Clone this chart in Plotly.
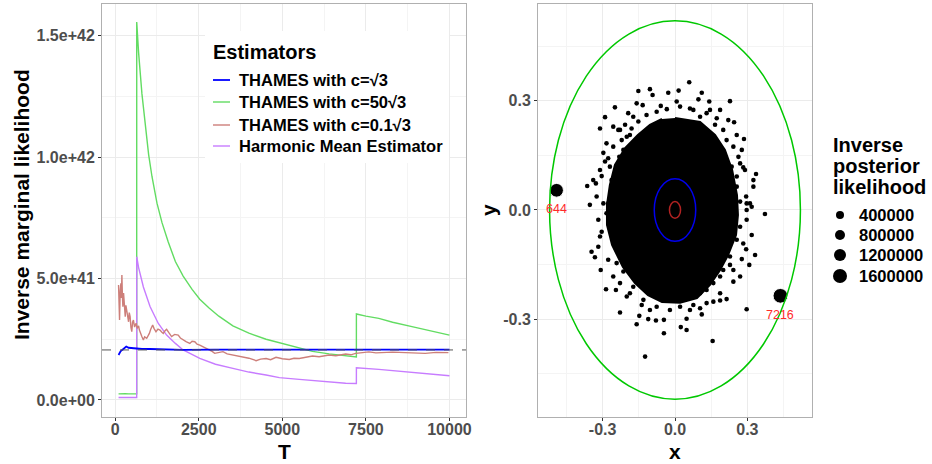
import plotly.graph_objects as go

# ---------------- Left panel data (values in units of 1e41) ----------------
SCALE = 1e41
blue_T = [100, 130, 160, 200, 250, 300, 330, 400, 450, 550, 645, 800, 1042, 1400, 2033, 3000, 5000, 7500, 10000]
blue_v = [1.85, 1.95, 2.0, 2.05, 2.1, 2.17, 2.2, 2.15, 2.14, 2.12, 2.13, 2.1, 2.1, 2.08, 2.06, 2.07, 2.07, 2.07, 2.07]

green_T = [100, 200, 300, 400, 500, 643, 644, 700, 800, 900, 1000, 1100, 1250, 1400, 1587, 1800, 2033, 2300,
           2530, 2800, 3100, 3521, 4000, 4514, 4911, 5506, 5903, 6400, 6895, 7215, 7216, 7500, 7887, 8300,
           8878, 9400, 10000]
green_v = [0.25, 0.27, 0.26, 0.25, 0.26, 0.25, 15.56, 14.3, 12.6, 11.2, 10.1, 9.2, 8.1, 7.3, 6.5, 5.7, 5.1, 4.55,
           4.15, 3.8, 3.45, 3.05, 2.75, 2.5, 2.36, 2.15, 2.0, 1.9, 1.81, 1.77, 3.54, 3.45, 3.36, 3.2,
           3.02, 2.85, 2.67]

red_T = [100, 115, 130, 150, 170, 185, 200, 215, 230, 250, 270, 290, 300, 320, 350, 380, 400, 420, 446, 470,
         496, 520, 545, 580, 625, 660, 700, 724, 760, 800, 843, 880, 943, 980, 1022, 1060, 1121, 1160, 1220,
         1280, 1339, 1390, 1438, 1490, 1538, 1600, 1687, 1780, 1885, 1950, 2033, 2120, 2232, 2300, 2381, 2450,
         2530, 2650, 2827, 2900, 2976, 3100, 3224, 3350, 3521, 3650, 3819, 4000, 4216, 4350, 4514, 4650, 4812,
         5000, 5208, 5350, 5506, 5700, 5903, 6100, 6399, 6600, 6895, 7050, 7193, 7400, 7589, 7800, 8085, 8300,
         8680, 9000, 9276, 9600, 9970]
red_v = [4.73, 3.6, 3.29, 4.5, 4.8, 4.2, 5.14, 4.3, 3.84, 4.4, 4.1, 3.6, 3.43, 3.9, 3.7, 3.35, 3.22, 3.6, 3.43,
         3.0, 2.81, 3.2, 3.29, 3.0, 3.16, 2.95, 3.05, 2.88, 2.7, 2.6, 2.47, 2.6, 2.54, 2.62, 2.74, 2.9, 3.09,
         2.95, 2.81, 2.92, 2.88, 2.8, 2.74, 2.85, 2.91, 2.78, 2.61, 2.7, 2.67, 2.55, 2.47, 2.4, 2.33, 2.42, 2.40,
         2.3, 2.26, 2.18, 2.06, 2.0, 1.92, 1.97, 1.99, 1.9, 1.85, 1.82, 1.78, 1.72, 1.62, 1.68, 1.71, 1.66, 1.76,
         1.7, 1.67, 1.72, 1.71, 1.76, 1.81, 1.78, 1.85, 1.82, 1.89, 1.86, 1.92, 1.95, 1.98, 1.94, 1.95, 1.97,
         1.95, 1.93, 1.92, 1.96, 1.95]

purple_T = [100, 300, 500, 643, 644, 700, 843, 1042, 1290, 1538, 1800, 2033, 2530, 3000, 3521, 4000, 4514,
            4911, 5506, 5903, 6400, 6895, 7215, 7216, 7887, 8878, 10000]
purple_v = [0.10, 0.10, 0.10, 0.10, 5.9, 5.45, 4.65, 3.85, 3.15, 2.67, 2.33, 2.06, 1.71, 1.47, 1.30, 1.15, 1.03,
            0.92, 0.85, 0.80, 0.74, 0.69, 0.68, 1.33, 1.26, 1.15, 1.0]

reference_value = 2.06

y_ticks = [0, 5, 10, 15]
y_ticklabels = ["0.0e+00", "5.0e+41", "1.0e+42", "1.5e+42"]
x_ticks = [0, 2500, 5000, 7500, 10000]

# ---------------- Right panel data ----------------
cloud_x = [0.059, -0.152, -0.093, -0.028, 0.015, 0.111, 0.228, -0.249, -0.290, -0.134, -0.059, 0.007, 0.097,
           0.142, 0.245, 0.286, -0.311, -0.207, -0.173, 0.173, -0.297, -0.290, -0.364, -0.328, -0.304, 0.283,
           0.336, 0.325, 0.295, 0.373, 0.277, -0.325, -0.353, -0.297, -0.263, 0.256, -0.235, 0.214, -0.284,
           -0.104, 0.062, 0.131, -0.187,
           -0.346, -0.318, -0.332, -0.308, -0.286, -0.245, -0.228, -0.148, -0.159, -0.111, -0.079, -0.046,
           -0.046, 0.024, 0.048, 0.048, 0.111, 0.156, -0.124, 0.297, 0.214, 0.187, 0.159, 0.277, 0.308, 0.332,
           0.318, 0.295, 0.297, 0.318, 0.270, 0.242, -0.228, -0.200, -0.138, -0.104, 0.104, 0.076,
           -0.228, -0.200, -0.256, -0.231, -0.270, -0.242, 0.242, 0.263, 0.235, 0.256, 0.200, 0.166, -0.118,
           -0.076, -0.034, 0.021, 0.076, 0.104, 0.145, -0.152, -0.180, -0.221, -0.263, -0.277, 0.256, 0.270,
           0.297,
           -0.270, -0.256, -0.214, -0.187, -0.159, -0.118, -0.062, -0.007, 0.048, 0.104, 0.159, 0.200, 0.228,
           0.256, 0.270, -0.284, -0.304, -0.242, -0.214, -0.173, 0.021, 0.131, 0.187, 0.228,
           -0.256, -0.214, -0.277, -0.311, -0.339, 0.270, 0.290, 0.325, 0.311, 0.221, 0.187, -0.159, -0.194,
           -0.318, -0.311, -0.277, -0.256, -0.187, -0.131, -0.076, -0.021, 0.062, 0.131, 0.187, 0.242, 0.283,
           0.297]
cloud_y = [0.351, 0.327, 0.316, 0.322, 0.328, 0.322, 0.299, 0.282, 0.255, 0.288, 0.286, 0.298, 0.304, 0.298,
           0.241, 0.195, 0.224, 0.234, 0.256, 0.252, 0.157, 0.133, 0.066, 0.073, 0.093, 0.117, 0.099, 0.082,
           0.037, -0.011, 0.165, 0.037, 0.014, 0.018, 0.082, 0.206, 0.220, 0.192, 0.183, 0.332, 0.279, 0.266,
           0.206,
           -0.115, -0.101, -0.130, -0.165, -0.218, -0.220, -0.282, -0.291, -0.314, -0.300, -0.304, -0.302,
           -0.339, -0.322, -0.330, -0.299, -0.287, -0.360, -0.403, -0.273, -0.245, -0.249, -0.252, -0.135,
           -0.151, -0.124, -0.069, -0.108, 0.018, 0.009, -0.183, -0.197, -0.201, -0.238, -0.261, -0.275,
           -0.270, -0.261,
           0.220, 0.201, 0.174, 0.146, 0.119, 0.092, 0.174, 0.146, 0.119, 0.092, 0.220, 0.234, 0.261, 0.270,
           0.277, 0.284, 0.275, 0.256, 0.275, 0.243, 0.224, 0.192, 0.055, 0.018, 0.064, 0.023, 0.0,
           -0.037, -0.082, -0.119, -0.156, -0.183, -0.211, -0.234, -0.247, -0.238, -0.229, -0.201, -0.165,
           -0.128, -0.082, -0.046, -0.009, -0.060, -0.146, -0.169, -0.211, -0.266, -0.220, -0.183, -0.151,
           0.229, 0.165, 0.142, 0.110, 0.082, 0.128, 0.110, 0.064, 0.018, 0.247, 0.275, 0.293, 0.266,
           -0.027, -0.073, -0.137, -0.183, -0.229, -0.247, -0.266, -0.275, -0.275, -0.256, -0.229, -0.165, -0.092,
           -0.027]

# outline of the saturated core of the point cloud
core_x = [0.0, 0.104, 0.166, 0.207, 0.237, 0.257, 0.261, 0.253, 0.220, 0.187, 0.145, 0.091, 0.021, -0.054,
          -0.112, -0.166, -0.216, -0.261, -0.282, -0.282, -0.270, -0.249, -0.207, -0.154, -0.104, -0.054]
core_y = [0.253, 0.242, 0.206, 0.165, 0.110, 0.041, -0.014, -0.069, -0.124, -0.165, -0.206, -0.242, -0.255,
          -0.253, -0.234, -0.201, -0.157, -0.096, -0.041, 0.014, 0.069, 0.124, 0.170, 0.206, 0.234, 0.250]

big_x = [-0.491, 0.437]
big_y = [0.054, -0.236]
big_value = [1550000, 1750000]
big_label = ["644", "7216"]

circle_radius = [0.52, 0.086, 0.023]
circle_color = ["#00C800", "#0000EE", "#B22222"]

size_breaks = [400000, 800000, 1200000, 1600000]
xy_ticks = [-0.3, 0.0, 0.3]


def size_of(v):
    return 6 + v * 5e-6


FONT = "Liberation Sans, Arial, sans-serif"
TICKCOL = "#4D4D4D"
W, H = 932, 464


def px(x):
    return x / W


def py(y):
    return 1 - y / H


fig = go.Figure()

series = [
    ("THAMES with c=50√3", green_T, green_v, "#62DC62", 1.4),
    ("Harmonic Mean Estimator", purple_T, purple_v, "#C77CFF", 1.4),
    ("THAMES with c=0.1√3", red_T, red_v, "#CD7F7A", 1.4),
    ("THAMES with c=√3", blue_T, blue_v, "#0000FF", 1.8),
]
legend_order = ["THAMES with c=√3", "THAMES with c=50√3", "THAMES with c=0.1√3", "Harmonic Mean Estimator"]
for name, T, v, col, w in series:
    fig.add_trace(go.Scatter(
        x=T, y=[a * SCALE for a in v], mode="lines", name=name,
        line=dict(color=col, width=w), xaxis="x", yaxis="y", showlegend=False))

# right panel
fig.add_trace(go.Scatter(x=core_x, y=core_y, mode="lines", fill="toself", fillcolor="black",
                         line=dict(color="black", width=2), xaxis="x2", yaxis="y2", showlegend=False,
                         hoverinfo="skip"))
fig.add_trace(go.Scatter(x=cloud_x, y=cloud_y, mode="markers",
                         marker=dict(color="black", size=4.6, opacity=1),
                         xaxis="x2", yaxis="y2", showlegend=False))
fig.add_trace(go.Scatter(x=big_x, y=big_y, mode="markers",
                         marker=dict(color="black", opacity=1, size=[size_of(v) for v in big_value]),
                         xaxis="x2", yaxis="y2", showlegend=False))

shapes = [dict(type="line", xref="x domain", x0=0, x1=1, yref="y", y0=reference_value * SCALE,
               y1=reference_value * SCALE, line=dict(color="#555555", width=1, dash="dash"))]
for r, c in zip(circle_radius, circle_color):
    shapes.append(dict(type="circle", xref="x2", yref="y2", x0=-r, x1=r, y0=-r, y1=r,
                       line=dict(color=c, width=1.5)))

annotations = []
for x, y, t in zip(big_x, big_y, big_label):
    annotations.append(dict(x=x, y=y, xref="x2", yref="y2", text=t, showarrow=False, yshift=-19,
                            xanchor="center", yanchor="middle",
                            font=dict(family=FONT, size=12.5, color="#FF2A2A")))

# axis titles
title_font = dict(family=FONT, size=21, color="black", weight="bold")


def paper_text(x, y, text, font, angle=0, xanchor="center"):
    return dict(x=px(x), y=py(y), xref="paper", yref="paper", text=text, showarrow=False, textangle=angle,
                xanchor=xanchor, yanchor="middle", font=font)


annotations += [
    paper_text(284, 451, "T", title_font),
    paper_text(21, 205, "Inverse marginal likelihood", title_font, angle=-90),
    paper_text(675, 451, "x", title_font),
    paper_text(488, 210, "y", title_font, angle=-90),
]

# ---- estimator legend (drawn manually to match the row spacing) ----
colors = {n: c for n, _, _, c, _ in series}
widths = {n: w for n, _, _, _, w in series}
shapes.append(dict(type="rect", xref="paper", yref="paper", x0=px(205), x1=px(449), y0=py(163), y1=py(31),
                   fillcolor="white", line=dict(width=0), layer="above"))
annotations.append(paper_text(211, 52, "Estimators", dict(family=FONT, size=20, color="black", weight="bold"),
                              xanchor="left"))
legend_rows = [80, 102, 125, 146]
for name, yr in zip(legend_order, legend_rows):
    shapes.append(dict(type="line", xref="paper", yref="paper", x0=px(213), x1=px(230), y0=py(yr), y1=py(yr),
                       line=dict(color=colors[name], width=widths[name])))
    annotations.append(paper_text(237, yr, name, dict(family=FONT, size=16.5, color="black", weight="bold"),
                                  xanchor="left"))

# ---- size legend ----
for i, line in enumerate(["Inverse", "posterior", "likelihood"]):
    annotations.append(paper_text(831, 145 + 21 * i, line,
                                  dict(family=FONT, size=20, color="black", weight="bold"), xanchor="left"))
size_rows = [215, 235, 255, 276]
for b, yr in zip(size_breaks, size_rows):
    r = size_of(b) / 2
    shapes.append(dict(type="circle", xref="paper", yref="paper", xsizemode="pixel", ysizemode="pixel",
                       xanchor=px(840), yanchor=py(yr), x0=-r, x1=r, y0=-r, y1=r,
                       fillcolor="black", line=dict(width=0)))
    annotations.append(paper_text(857, yr, f"{b}", dict(family=FONT, size=16.5, color="black", weight="bold"),
                                  xanchor="left"))

axis_common = dict(showline=True, mirror=True, linecolor="#B0B0B0", linewidth=1, ticks="outside",
                   ticklen=3, tickcolor="#333333", gridcolor="#EBEBEB", gridwidth=1, zeroline=False,
                   tickfont=dict(family=FONT, size=16, color=TICKCOL, weight="bold"),
                   showspikes=False, automargin=False)

fig.update_layout(
    width=W, height=H, margin=dict(l=0, r=0, t=0, b=0, autoexpand=False),
    paper_bgcolor="white", plot_bgcolor="white",
    font=dict(family=FONT), showlegend=False,
    xaxis=dict(domain=[px(102), px(466)], range=[-395, 10495], tickvals=x_ticks,
               ticktext=[str(t) for t in x_ticks], anchor="y", ticklabelstandoff=-5,
               minor=dict(showgrid=True, gridcolor="#F4F4F4", tick0=0, dtick=1250), **axis_common),
    yaxis=dict(domain=[py(417), py(4)], range=[-0.70e41, 16.3e41],
               tickvals=[t * SCALE for t in y_ticks], ticktext=y_ticklabels, anchor="x",
               minor=dict(showgrid=True, gridcolor="#F4F4F4", tick0=0, dtick=2.5e41), **axis_common),
    xaxis2=dict(domain=[px(538), px(812)], range=[-0.568, 0.568], tickvals=xy_ticks,
                ticktext=["-0.3", "0.0", "0.3"], anchor="y2", ticklabelstandoff=-5,
                minor=dict(showgrid=True, gridcolor="#F4F4F4", tick0=0, dtick=0.15), **axis_common),
    yaxis2=dict(domain=[py(417), py(4)], range=[-0.569, 0.566], tickvals=xy_ticks,
                ticktext=["-0.3", "0.0", "0.3"], anchor="x2",
                minor=dict(showgrid=True, gridcolor="#F4F4F4", tick0=0, dtick=0.15), **axis_common),
    shapes=shapes, annotations=annotations,
)

fig.write_html("out.html", config={"displayModeBar": False},
               post_script="document.body.style.margin='0';document.body.style.overflow='hidden';")
